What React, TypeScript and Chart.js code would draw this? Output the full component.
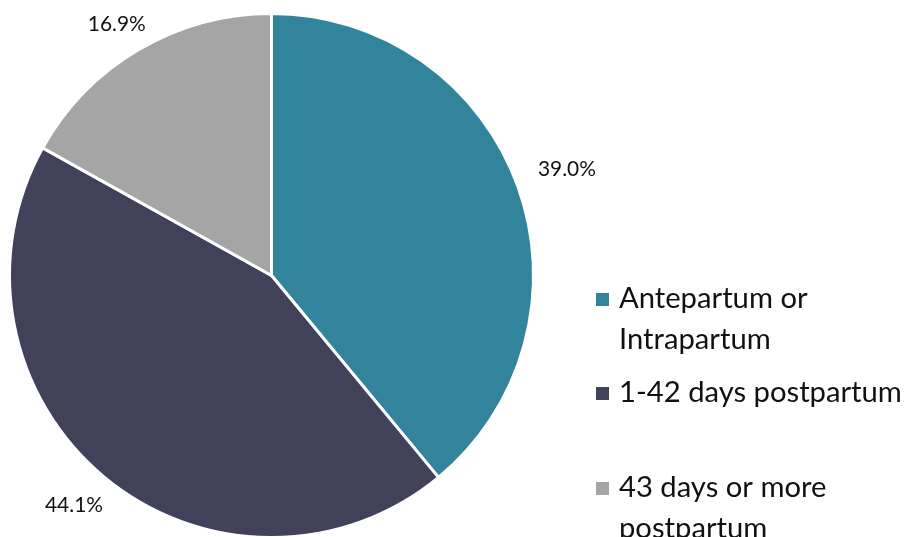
import React, { useEffect, useRef } from "react";
import { Chart, registerables } from "chart.js";

Chart.register(...registerables);

const categories = ["Antepartum or Intrapartum", "1-42 days postpartum", "43 days or more postpartum"];
const legendLines = [["Antepartum or", "Intrapartum"], ["1-42 days postpartum"], ["43 days or more", "postpartum"]];
const values = [39.0, 44.1, 16.9];
const valueLabels = ["39.0%", "44.1%", "16.9%"];
const colors = ["#31849B", "#41425A", "#A5A5A5"];

const FONT = "Lato, 'Noto Sans', sans-serif";

const labelPlugin = {
  id: "sliceLabels",
  afterDraw(chart: any) {
    const ctx = chart.ctx;
    const meta = chart.getDatasetMeta(0);
    const area = chart.chartArea;
    ctx.save();
    ctx.font = `18px ${FONT}`;
    const s = 18 * (58 / ctx.measureText("39.0%").width);
    ctx.font = `${s}px ${FONT}`;
    ctx.fillStyle = "#111111";
    ctx.textAlign = "center";
    ctx.textBaseline = "middle";
    meta.data.forEach((arc: any, i: number) => {
      const { x, y, startAngle, endAngle, outerRadius } = arc.getProps(["x", "y", "startAngle", "endAngle", "outerRadius"], true);
      const mid = (startAngle + endAngle) / 2;
      const dx = Math.cos(mid);
      const dy = Math.sin(mid);
      const text = valueLabels[i];
      const hw = ctx.measureText(text).width / 2;
      const hh = 8;
      const ext = Math.abs(dx) * hw + Math.abs(dy) * hh;
      const d = outerRadius + 22 + ext;
      const lx = x + dx * d;
      let ly = y + dy * d;
      ly = Math.max(ly, area.top + hh + 2);
      ly = Math.min(ly, area.bottom - hh - 24);
      ctx.fillText(text, lx, ly);
    });
    ctx.restore();
  },
};

const legendPlugin = {
  id: "sideLegend",
  afterDraw(chart: any) {
    const ctx = chart.ctx;
    ctx.save();
    ctx.font = `27px ${FONT}`;
    const target = 283;
    const w = ctx.measureText(legendLines[1][0]).width;
    const size = 27 * (target / w);
    ctx.font = `${size}px ${FONT}`;
    ctx.textAlign = "left";
    ctx.textBaseline = "alphabetic";
    const firstBaselines = [308, 402, 497];
    const lineGap = 40.5;
    categories.forEach((_, i) => {
      const b = firstBaselines[i];
      ctx.fillStyle = colors[i];
      ctx.fillRect(596, b - 15, 13, 13);
      ctx.fillStyle = "#111111";
      legendLines[i].forEach((ln, j) => {
        ctx.fillText(ln, 619, b + j * lineGap);
      });
    });
    ctx.restore();
  },
};

export default function App() {
  const ref = useRef<HTMLCanvasElement>(null);
  useEffect(() => {
    document.body.style.margin = "0";
    const chart = new Chart(ref.current!, {
      type: "pie",
      data: {
        labels: categories,
        datasets: [
          {
            data: values,
            backgroundColor: colors,
            borderColor: "#FFFFFF",
            borderWidth: 3,
          },
        ],
      },
      options: {
        responsive: false,
        animation: false,
        radius: 262,
        layout: { padding: { left: 10, right: 372, top: 14, bottom: 0 } },
        plugins: {
          legend: { display: false },
          tooltip: { enabled: false },
        },
      } as any,
      plugins: [labelPlugin, legendPlugin],
    });
    return () => chart.destroy();
  }, []);
  return (
    <div style={{ position: "absolute", left: 0, top: 0, width: 905, height: 537, background: "#fff" }}>
      <canvas ref={ref} width={905} height={537} style={{ width: 905, height: 537, display: "block" }} />
    </div>
  );
}
